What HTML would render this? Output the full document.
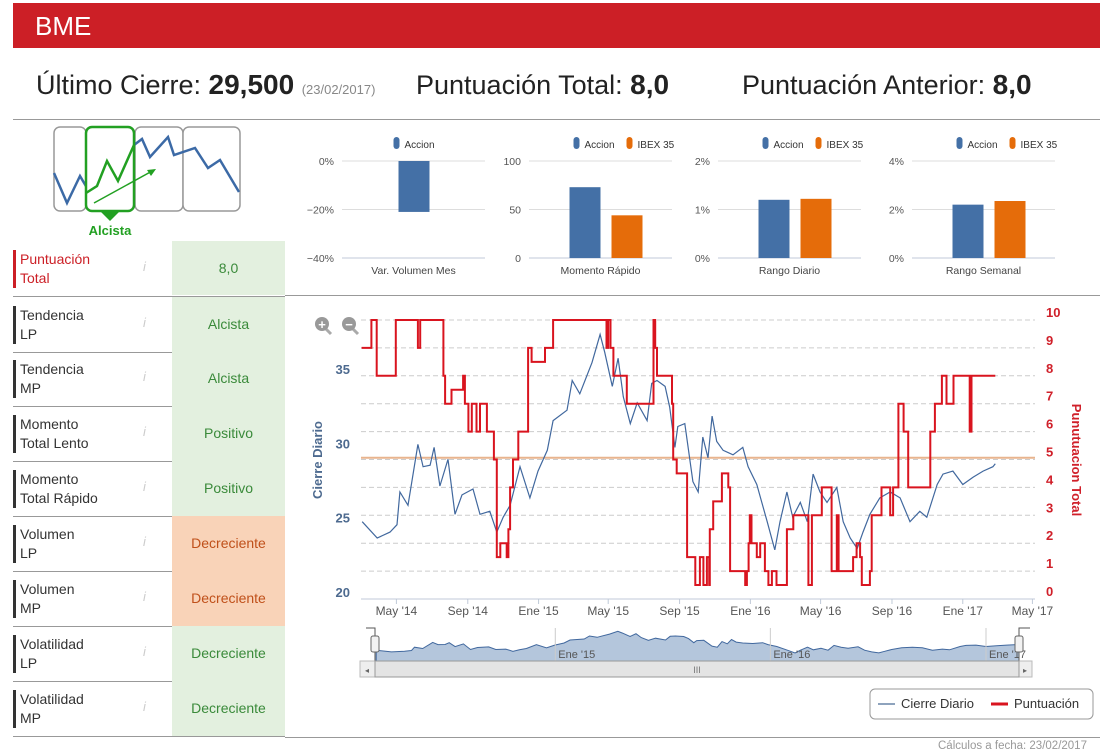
<!DOCTYPE html>
<html><head><meta charset="utf-8">
<style>
body{margin:0;width:1107px;height:755px;background:#fff;font-family:"Liberation Sans",sans-serif;position:relative;overflow:hidden}
.abs{position:absolute}
.row{position:absolute;left:13px;width:272px;height:55px;border-bottom:1px solid #999}
.row .lbl{position:absolute;left:0;top:9px;height:38px;border-left:3px solid #333;padding-left:4px;font-size:14px;line-height:19px;color:#333}
.row .info{position:absolute;left:130px;top:18px;color:#ccc;font-size:13px;font-style:italic}
.row .val{position:absolute;left:159px;top:0;width:113px;height:55px;line-height:55px;text-align:center;font-size:14px;color:#3a8a3a;background:#e3f0df}
.row .val.orange{background:#f9d3b8;color:#c0501a}
</style></head><body>
<div class="abs" style="left:13px;top:3px;width:1087px;height:45px;background:#cc1f26"></div>
<div class="abs" style="left:35px;top:11px;font-size:26px;color:#fff">BME</div>
<div class="abs" style="left:36px;top:69px;font-size:27px;color:#222;white-space:nowrap">Último Cierre: <b style="font-size:28px">29,500</b> <span style="font-size:13px;color:#888">(23/02/2017)</span></div>
<div class="abs" style="left:416px;top:69px;font-size:27px;color:#222">Puntuación Total: <b style="font-size:28px">8,0</b></div>
<div class="abs" style="left:742px;top:69px;font-size:27px;color:#222">Puntuación Anterior: <b style="font-size:28px">8,0</b></div>
<div class="abs" style="left:13px;top:119px;width:1087px;height:1px;background:#999"></div>
<div class="abs" style="left:285px;top:295px;width:815px;height:1px;background:#999"></div>
<div class="abs" style="left:285px;top:737px;width:815px;height:1px;background:#999"></div>
<div class="abs" style="left:938px;top:740px;font-size:11.5px;color:#999">Cálculos a fecha: 23/02/2017</div>

<svg class="abs" style="left:50px;top:125px" width="195" height="112">
<rect x="4" y="2" width="32" height="84" rx="6" fill="#fff" stroke="#999" stroke-width="1.5"/>
<rect x="85" y="2" width="48" height="84" rx="6" fill="#fff" stroke="#999" stroke-width="1.5"/>
<rect x="133" y="2" width="57" height="84" rx="6" fill="#fff" stroke="#999" stroke-width="1.5"/>
<polyline points="4,48 17,78 30,51 40,68" fill="none" stroke="#3c6aa6" stroke-width="2.5"/>
<polyline points="84,20 92,14 100,32 118,12 124,30 145,23 158,43 170,35 189,67" fill="none" stroke="#3c6aa6" stroke-width="2.5"/>
<rect x="36" y="2" width="48" height="84" rx="6" fill="#fff" stroke="#22a022" stroke-width="2.5"/>
<polyline points="36,68 47,61 57,36 68,56 84,20" fill="none" stroke="#22a022" stroke-width="2.5"/>
<line x1="44" y1="78" x2="104" y2="45" stroke="#22a022" stroke-width="1.5"/>
<polygon points="106,44 97,45 101,51" fill="#22a022"/>
<polygon points="50,86 70,86 60,96" fill="#22a022"/>
<text x="60" y="110" text-anchor="middle" font-size="13" font-weight="bold" fill="#22a022" font-family="Liberation Sans">Alcista</text>
</svg>

<div class="row" style="top:241px;height:54px;border-bottom:none"><div class="lbl" style="border-color:#cc1f26;color:#cc1f26">Puntuación<br>Total</div><div class="info">i</div><div class="val" style="height:54px;line-height:54px">8,0</div></div>
<div class="row" style="top:296px;border-top:1px solid #999"><div class="lbl">Tendencia<br>LP</div><div class="info">i</div><div class="val">Alcista</div></div>
<div class="row" style="top:351px"><div class="lbl">Tendencia<br>MP</div><div class="info">i</div><div class="val">Alcista</div></div>
<div class="row" style="top:406px"><div class="lbl">Momento<br>Total Lento</div><div class="info">i</div><div class="val">Positivo</div></div>
<div class="row" style="top:461px"><div class="lbl">Momento<br>Total Rápido</div><div class="info">i</div><div class="val">Positivo</div></div>
<div class="row" style="top:516px"><div class="lbl">Volumen<br>LP</div><div class="info">i</div><div class="val orange">Decreciente</div></div>
<div class="row" style="top:571px"><div class="lbl">Volumen<br>MP</div><div class="info">i</div><div class="val orange">Decreciente</div></div>
<div class="row" style="top:626px"><div class="lbl">Volatilidad<br>LP</div><div class="info">i</div><div class="val">Decreciente</div></div>
<div class="row" style="top:681px"><div class="lbl">Volatilidad<br>MP</div><div class="info">i</div><div class="val">Decreciente</div></div>

<svg id="mini" class="abs" style="left:0;top:0" width="1107" height="300"></svg>
<svg id="main" class="abs" style="left:0;top:0" width="1107" height="755"></svg>

<script>
// ---- mini bar charts data ----
const miniTitles = ["Var. Volumen Mes","Momento Rápido","Rango Diario","Rango Semanal"];
const miniAccion = [-21, 73, 1.2, 2.2];
const miniIbex = [null, 44, 1.22, 2.35];
const miniTicks = [["0%","−20%","−40%"],["100","50","0"],["2%","1%","0%"],["4%","2%","0%"]];
const miniMax = [0, 100, 2, 4];
const miniMin = [-40, 0, 0, 0];

// ---- main chart data ----
const closeDays = [2,28,50,62,67,81,98,107,119,126,136,150,162,174,193,205,222,234,245,257,274,291,305,321,331,355,364,377,398,412,420,433,443,452,464,476,493,501,510,524,532,541,546,558,572,581,589,598,605,613,624,641,658,667,682,700,713,722,734,744,757,769,779,791,803,820,831,843,855,865,877,894,912,929,946,963,975,993,1003,1020,1037,1055,1072,1089,1093];
const closeValues = [25.2,24.1,24.5,25.0,27.2,26.3,30.4,28.9,29.0,30.2,27.6,29.4,25.7,27.0,27.4,25.7,25.9,24.5,25.5,26.3,28.9,26.8,28.6,30.0,32.0,32.7,34.7,33.8,35.9,37.8,36.6,34.3,36.2,33.6,31.8,33.2,32.0,34.5,34.7,34.3,32.9,30.2,31.6,31.8,27.9,27.2,30.9,29.5,32.3,30.6,30.0,29.7,30.2,28.9,27.7,25.2,23.3,25.2,27.2,25.5,26.5,25.2,28.4,27.2,26.5,27.5,25.2,24.1,23.4,24.5,25.7,26.8,27.2,26.8,25.2,25.9,25.5,27.7,28.4,28.6,27.7,28.2,28.6,28.9,29.1];
const scoreDays = [1,18,27,60,98,102,142,145,156,176,179,185,191,199,205,217,229,234,240,251,254,257,262,271,288,294,317,331,423,426,430,435,458,504,507,510,536,538,544,562,576,584,590,596,600,601,607,622,633,636,662,665,668,670,673,682,688,696,702,708,716,734,745,771,777,794,811,820,823,848,854,860,863,877,880,897,912,917,926,935,943,981,989,1001,1009,1021,1049,1052,1093];
const scoreValues = [9,10,8,10,9,10,8,7,7.5,8,7,6,7,6,7,6,5,1.5,2,1.5,2.5,4,5,6,9,8.5,9,10,9,10,9,8,7,10,9,8,7,5,4.5,1.5,0.5,1.5,0.5,1.5,0.5,2.5,3.5,4.5,4,1,0.5,1,2,3,2,1.5,2,1,0.5,1,0.5,2.5,3,0.5,3,4,1,3,1,1.5,2,1.5,0.5,1,3,4,3,4,7,6,4,6,7,8,7,8,6,8,8];
const lastClose = 29.5;
const leftTicks = [20,25,30,35];
const rightTicks = [0,1,2,3,4,5,6,7,8,9,10];
const monthLabels = ["May '14","Sep '14","Ene '15","May '15","Sep '15","Ene '16","May '16","Sep '16","Ene '17","May '17"];
const monthDays = [61,184,306,426,549,671,792,915,1037,1157];
const navLabels = ["Ene '15","Ene '16","Ene '17"];
const navDays = [306,671,1037];

const NS="http://www.w3.org/2000/svg";
function mk(parent,tag,attrs,text){const e=document.createElementNS(NS,tag);for(const k in attrs)e.setAttribute(k,attrs[k]);if(text!==undefined)e.textContent=text;parent.appendChild(e);return e;}
const F="Liberation Sans, sans-serif";

// mini charts
const mini=document.getElementById('mini');
const miniX0=[342,529,718,912];
miniTitles.forEach((t,i)=>{
  const x0=miniX0[i], w=143, yTop=161, yBot=258;
  const y=v=>yTop+(miniMax[i]-v)/(miniMax[i]-miniMin[i])*(yBot-yTop);
  const g=mk(mini,'g',{});
  
  
  miniTicks[i].forEach((tk,j)=>{
    const yy=yTop+j*(yBot-yTop)/2;
    mk(g,'line',{x1:x0,x2:x0+w,y1:yy,y2:yy,stroke:j==2?'#c0cad8':'#ddd','stroke-width':1});
    const tx=mk(g,'text',{x:x0-8,y:yy+4,'text-anchor':'end','font-size':10.5,fill:'#555','font-family':F},tk);
    
    
  });
  const zero=y(Math.max(0,miniMin[i]));
  const twoSeries = miniIbex[i]!==null;
  const cx=x0+w/2;
  const bx = twoSeries ? [cx-31,cx+11] : [cx-15];
  const vals = twoSeries ? [miniAccion[i],miniIbex[i]] : [miniAccion[i]];
  const cols=['#4470a6','#e56c0a'];
  vals.forEach((v,k)=>{
    const yv=y(v);const z=miniMin[i]<0?y(0):zero;
    const r=mk(g,'rect',{x:bx[k],y:Math.min(yv,z),width:31,height:Math.abs(z-yv),fill:cols[k]});
    
    
  });
  const ct=mk(g,'text',{x:cx,y:274,'text-anchor':'middle','font-size':10.5,fill:'#444','font-family':F},t);
  
  
  const lx = twoSeries ? cx-27 : cx-20;
  mk(g,'rect',{x:lx,y:137,width:6,height:12,rx:3,fill:cols[0]});
  const l1=mk(g,'text',{x:lx+11,y:148,'font-size':10,fill:'#333','font-family':F},'Accion');
  
  
  if(twoSeries){
    mk(g,'rect',{x:lx+53,y:137,width:6,height:12,rx:3,fill:cols[1]});
    const l2=mk(g,'text',{x:lx+64,y:148,'font-size':10,fill:'#333','font-family':F},'IBEX 35');
    
    
  }
});

// main chart
const svg=document.getElementById('main');
const PX0=361, pxPerDay=0.5803, PT=320, PB=599;
const xs=d=>PX0+d*pxPerDay;
const yL=v=>PB-(v-20)*(PB-376)/15;
const yR=v=>PB-v*(PB-PT)/10;
rightTicks.forEach(v=>{
  const yy=yR(v);
  mk(svg,'line',{x1:PX0,x2:1035,y1:yy,y2:yy,stroke:v==0?'#c0cad8':'#ccc','stroke-dasharray':v==0?'':'5,3','stroke-width':1});
  const t=mk(svg,'text',{x:1046,y:yy-3,'font-size':13,'font-weight':'bold',fill:'#d0202a','font-family':F},String(v));
  
  
});
leftTicks.forEach(v=>{
  const t=mk(svg,'text',{x:350,y:yL(v)-2,'text-anchor':'end','font-size':13,'font-weight':'bold',fill:'#4d6a8f','font-family':F},String(v));
  
  
});
monthLabels.forEach((m,i)=>{
  const x=xs(monthDays[i]);
  mk(svg,'line',{x1:x,x2:x,y1:PB,y2:PB+5,stroke:'#c0cad8'});
  const t=mk(svg,'text',{x:x,y:PB+16,'text-anchor':'middle','font-size':12,fill:'#555','font-family':F},m);
  
  
});
const yt=mk(svg,'text',{x:322,y:460,transform:'rotate(-90 322 460)','text-anchor':'middle','font-size':13,'font-weight':'bold',fill:'#4d6a8f','font-family':F},'Cierre Diario');


const yt2=mk(svg,'text',{x:1072,y:460,transform:'rotate(90 1072 460)','text-anchor':'middle','font-size':13,'font-weight':'bold',fill:'#d0202a','font-family':F},'Punutuacion Total');


const lc=mk(svg,'line',{x1:PX0,x2:1035,y1:yL(lastClose),y2:yL(lastClose),stroke:'#e8b48e','stroke-width':2});


const cl=mk(svg,'polyline',{points:closeDays.map((d,i)=>xs(d).toFixed(1)+','+yL(closeValues[i]).toFixed(1)).join(' '),fill:'none',stroke:'#41689e','stroke-width':1.2});


let pts=[];
scoreDays.forEach((d,i)=>{
  if(i>0) pts.push(xs(d).toFixed(1)+','+yR(scoreValues[i-1]).toFixed(1));
  pts.push(xs(d).toFixed(1)+','+yR(scoreValues[i]).toFixed(1));
});
const sl=mk(svg,'polyline',{points:pts.join(' '),fill:'none',stroke:'#d9141f','stroke-width':2});


[[322,'+'],[349,'−']].forEach(([x,s],i)=>{
  const g=mk(svg,'g',{});
  
  
  mk(g,'line',{x1:x+4,y1:329,x2:x+9,y2:334,stroke:'#aaa','stroke-width':3});
  mk(g,'circle',{cx:x,cy:324,r:7,fill:'#999'});
  mk(g,'text',{x:x,y:329,'text-anchor':'middle','font-size':13,'font-weight':'bold',fill:'#fff','font-family':F},s);
});
const NX0=375, NX1=1019, NT=628, NB=661;
const nxs=d=>NX0+d*(NX1-NX0)/1093;
const nys=v=>NB-(v-18)*(NB-NT)/22;
let area='M'+nxs(closeDays[0])+','+NB+' '+closeDays.map((d,i)=>'L'+nxs(d).toFixed(1)+','+nys(closeValues[i]).toFixed(1)).join(' ')+' L'+nxs(closeDays[closeDays.length-1])+','+NB+'Z';
const nav=mk(svg,'path',{d:area,fill:'#b4c6dc',stroke:'#41689e','stroke-width':1});


navDays.forEach((d,i)=>{
  const x=nxs(d);
  mk(svg,'line',{x1:x,x2:x,y1:NT,y2:NB,stroke:'#ccc'});
  const t=mk(svg,'text',{x:x+3,y:658,'font-size':11,fill:'#555','font-family':F},navLabels[i]);
  
  
});
mk(svg,'path',{d:'M366,628 H375 V661 M1019,661 V628 H1030',fill:'none',stroke:'#555'});
[375,1019].forEach((x,i)=>{
  const h=mk(svg,'rect',{x:x-4,y:636,width:8,height:16,rx:2,fill:'#f2f2f2',stroke:'#666'});
  
  
});
const sb=mk(svg,'rect',{x:360,y:661,width:672,height:16,fill:'#eee',stroke:'#bbb'});


mk(svg,'rect',{x:375,y:661,width:644,height:16,fill:'#e4e4e4',stroke:'#999'});
mk(svg,'text',{x:697,y:673,'text-anchor':'middle','font-size':9,fill:'#777','font-family':F},'III');
mk(svg,'text',{x:367,y:673,'text-anchor':'middle','font-size':8,fill:'#666','font-family':F},'◂');
mk(svg,'text',{x:1025,y:673,'text-anchor':'middle','font-size':8,fill:'#666','font-family':F},'▸');
const lg=mk(svg,'g',{});


mk(lg,'rect',{x:870,y:689,width:223,height:30,rx:5,fill:'#fff',stroke:'#999'});
mk(lg,'line',{x1:878,x2:895,y1:704,y2:704,stroke:'#8ea3bd','stroke-width':2});
const le1=mk(lg,'text',{x:901,y:708,'font-size':13,fill:'#333','font-family':F},'Cierre Diario');


mk(lg,'line',{x1:991,x2:1008,y1:704,y2:704,stroke:'#d9141f','stroke-width':3});
const le2=mk(lg,'text',{x:1014,y:708,'font-size':13,fill:'#333','font-family':F},'Puntuación');


</script>
</body></html>
